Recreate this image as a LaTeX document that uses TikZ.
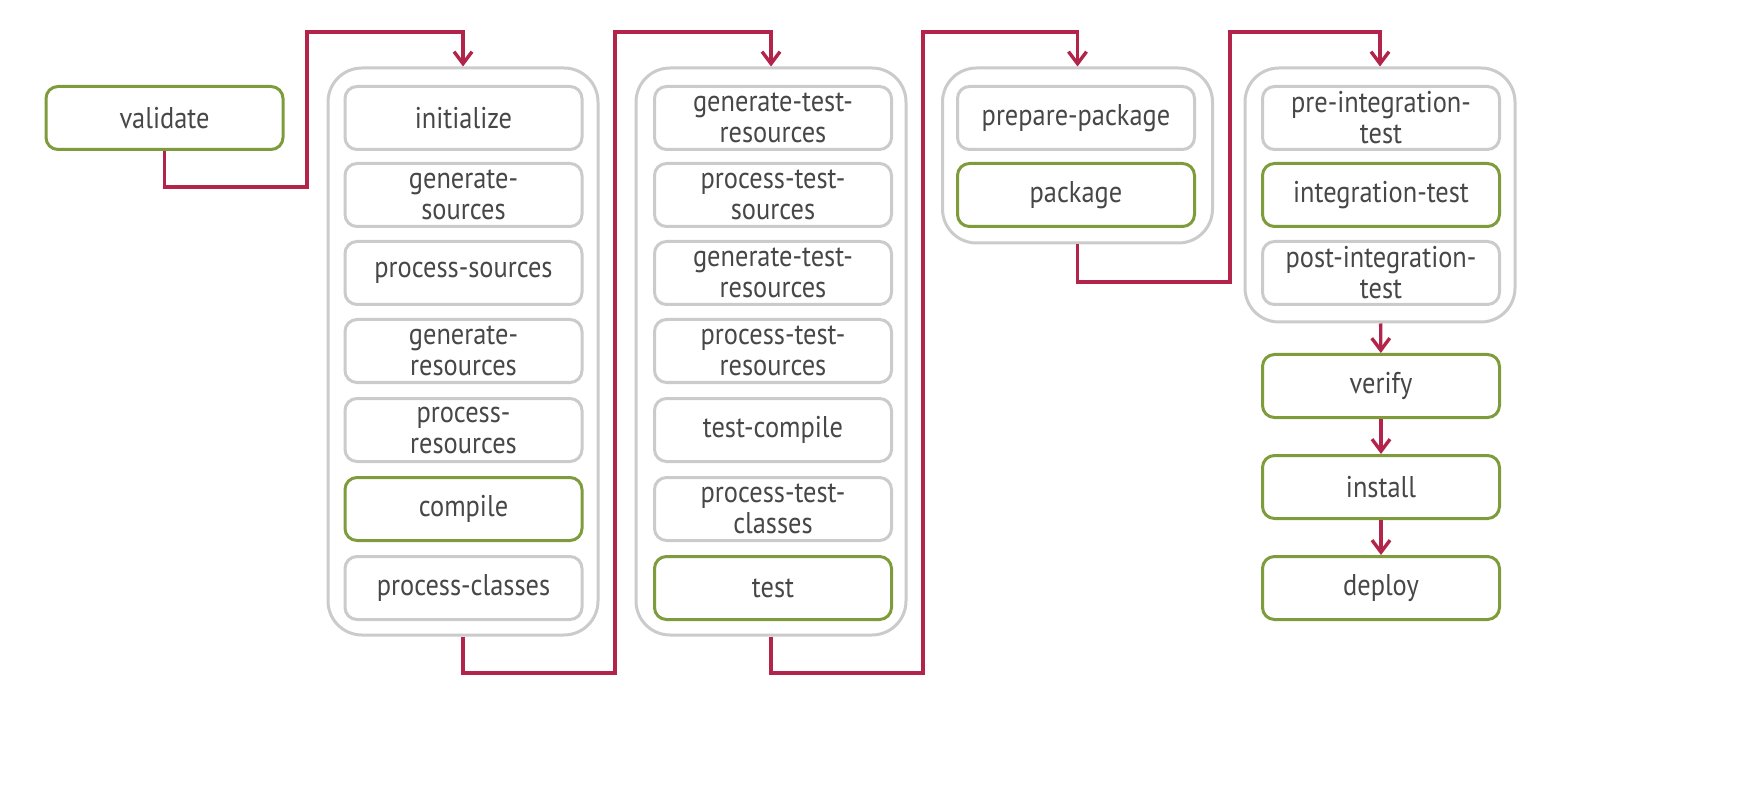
\documentclass[tikz,border=0pt]{standalone}
\usepackage{fontspec}
\setmainfont{PT Sans}[FakeStretch=0.88]
\usepackage{tikz}
\usetikzlibrary{arrows.meta}
\definecolor{lineRed}{HTML}{B3244A}
\definecolor{goalGreen}{HTML}{7F9C3C}
\definecolor{boxGrey}{HTML}{CBCBCB}
\definecolor{textGrey}{HTML}{474747}

\begin{document}
\begin{tikzpicture}[x=0.5pt, y=-0.5pt,
        box/.style={draw=boxGrey, line width=1.5pt, rounded corners=6pt, fill=white,
            minimum width=118.5pt, minimum height=31.5pt, inner sep=0pt, align=center,
            text=textGrey, font=\fontsize{15}{15.5}\selectfont},
        goal/.style={box, draw=goalGreen},
        group/.style={draw=boxGrey, line width=1.5pt, rounded corners=17pt, fill=white, minimum width=135pt},
        flow/.style={draw=lineRed, line width=1.7pt, -{Straight Barb[length=6pt, width=9pt]}}]
        \useasboundingbox (0, 0) rectangle (1757, 786);

        % groups of phases
        \node[group, minimum height=283.5pt] at (463, 351.5) (C1) {};
        \node[group, minimum height=283.5pt] at (771, 351.5) (C2) {};
        \node[group, minimum height=87.5pt] at (1077.5, 155.5) (C3) {};
        \node[group, minimum height=127pt] at (1380, 195) (C4) {};

        \node[goal] at (164.5, 118) (V) {validate};

        \node[box] at (463.5, 118) (init) {initialize};
        \node[box] at (463.5, 195) (gs) {generate-\\sources};
        \node[box] at (463.5, 273) (ps) {process-sources};
        \node[box] at (463.5, 351) (gr) {generate-\\resources};
        \node[box] at (463.5, 430) (pr) {process-\\resources};
        \node[goal] at (463.5, 509) (comp) {compile};
        \node[box] at (463.5, 588) (pc) {process-classes};

        \node[box] at (773, 118) (gtr) {generate-test-\\resources};
        \node[box] at (773, 195) (pts) {process-test-\\sources};
        \node[box] at (773, 273) (gtr2) {generate-test-\\resources};
        \node[box] at (773, 351) (ptr) {process-test-\\resources};
        \node[box] at (773, 430) (tc) {test-compile};
        \node[box] at (773, 509) (ptc) {process-test-\\classes};
        \node[goal] at (773, 588) (T) {test};

        \node[box] at (1076, 118) (pp) {prepare-package};
        \node[goal] at (1076, 195) (P) {package};

        \node[box] at (1381, 118) (pit) {pre-integration-\\test};
        \node[goal] at (1381, 195) (IT) {integration-test};
        \node[box] at (1381, 273) (poit) {post-integration-\\test};

        \node[goal] at (1381, 386) (ver) {verify};
        \node[goal] at (1381, 487) (inst) {install};
        \node[goal] at (1381, 588) (dep) {deploy};

        % the flow between groups
        \draw[flow] (V.south) |- (307, 187) -- (307, 32) -| (C1.north);
        \draw[flow] (C1.south) |- (615, 673) -- (615, 32) -| (C2.north);
        \draw[flow] (C2.south) |- (923, 673) -- (923, 32) -| (C3.north);
        \draw[flow] (C3.south) |- (1230, 282) -- (1230, 32) -| (C4.north);
        \draw[flow] (C4) -- (ver);
        \draw[flow] (ver) -- (inst);
        \draw[flow] (inst) -- (dep);
\end{tikzpicture}
\end{document}
